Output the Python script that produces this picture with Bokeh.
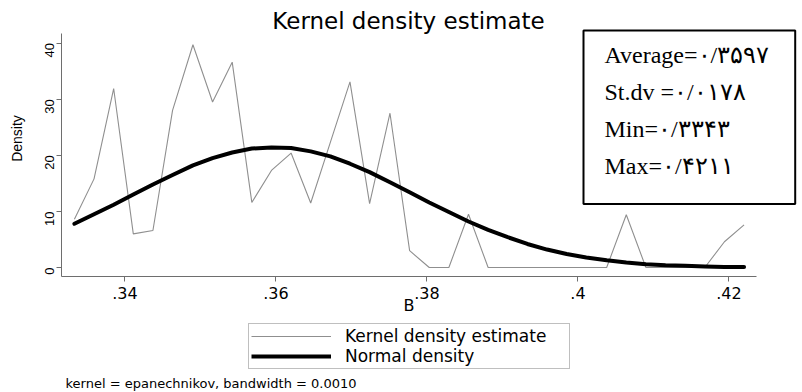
import math
from bokeh.plotting import figure
from bokeh.layouts import column
from bokeh.models import (Legend, LegendItem, Label, FixedTicker, Range1d, LinearAxis)
from bokeh.embed import file_html
from bokeh.resources import INLINE

# ---- data ----
b_grid = [0.3333, 0.3359, 0.3385, 0.3411, 0.3437, 0.3463, 0.3490, 0.3516, 0.3542,
          0.3568, 0.3594, 0.3620, 0.3646, 0.3672, 0.3698, 0.3724, 0.3751, 0.3777,
          0.3803, 0.3829, 0.3855, 0.3881, 0.3907, 0.3933, 0.3959, 0.3985, 0.4011,
          0.4038, 0.4064, 0.4090, 0.4116, 0.4142, 0.4168, 0.4194, 0.4220]
kernel_density = [8.6, 15.8, 31.9, 6.0, 6.6, 28.0, 39.7, 29.5, 36.6,
                  11.6, 17.3, 20.4, 11.5, 22.3, 33.1, 11.4, 27.5, 3.0,
                  0.0, 0.0, 9.5, 0.0, 0.0, 0.0, 0.0, 0.0, 0.0,
                  0.0, 9.4, 0.0, 0.0, 0.0, 0.0, 4.6, 7.6]
normal_density = [7.8, 9.5, 11.2, 13.0, 14.8, 16.5, 18.2, 19.5, 20.5,
                  21.2, 21.4, 21.3, 20.7, 19.8, 18.5, 17.0, 15.2, 13.4,
                  11.6, 9.9, 8.2, 6.7, 5.4, 4.2, 3.2, 2.4, 1.8,
                  1.3, 0.9, 0.6, 0.4, 0.3, 0.2, 0.1, 0.1]
x_ticks = [0.34, 0.36, 0.38, 0.40, 0.42]
x_tick_labels = [".34", ".36", ".38", ".4", ".42"]
y_ticks = [0, 10, 20, 30, 40]
y_tick_labels = ["0", "10", "20", "30", "40"]
legend_labels = ["Kernel density estimate", "Normal density"]
stats_lines = ["Average=۰/۳۵۹۷", "St.dv =۰/۰۱۷۸", "Min=۰/۳۳۴۳", "Max=۰/۴۲۱۱"]
title_text = "Kernel density estimate"
note_text = "kernel = epanechnikov, bandwidth = 0.0010"
x_label = "B"
y_label = "Density"

AXIS_GRAY = "#6e6e6e"
KERNEL_GRAY = "#8f8f8f"
SANS = "DejaVu Sans"

X_AXIS = (0.33159, 0.42364)
Y_AXIS = (-1.60, 41.71)

# ---------------- main plot ----------------
p = figure(width=802, height=320, output_backend="svg", toolbar_location=None,
           x_range=Range1d(X_AXIS[0], 0.42974), y_range=Range1d(Y_AXIS[0], 47.59),
           min_border_left=61, min_border_right=0, min_border_top=0,
           min_border_bottom=44)
p.outline_line_color = None
p.xgrid.visible = False
p.ygrid.visible = False
p.background_fill_color = "white"
p.border_fill_color = "white"

kr = p.line(b_grid, kernel_density, line_color=KERNEL_GRAY, line_width=1.1)
nr = p.line(b_grid, normal_density, line_color="black", line_width=4,
            line_join="round", line_cap="round")

# x axis
xa = p.xaxis[0]
xa.bounds = X_AXIS
xa.ticker = FixedTicker(ticks=x_ticks)
xa.major_label_overrides = dict(zip(x_ticks, x_tick_labels))
xa.minor_tick_line_color = None
xa.major_tick_out = 5
xa.major_tick_in = 0
xa.axis_line_color = AXIS_GRAY
xa.major_tick_line_color = AXIS_GRAY
xa.major_label_text_font = SANS
xa.major_label_text_font_size = "16px"
xa.major_label_text_color = "black"
xa.major_label_standoff = 5

# axis title "B", centred under the axis bounds
b_pos = (X_AXIS[0] + X_AXIS[1]) / 2
b_axis = LinearAxis(ticker=FixedTicker(ticks=[b_pos]),
                    major_label_overrides={b_pos: x_label},
                    axis_line_color=None, major_tick_line_color=None,
                    minor_tick_line_color=None, major_tick_out=0, major_tick_in=0,
                    major_label_standoff=-6, major_label_text_font=SANS,
                    major_label_text_font_size="16px",
                    major_label_text_color="black")
p.add_layout(b_axis, "below")

# y axis
ya = p.yaxis[0]
ya.bounds = Y_AXIS
ya.ticker = FixedTicker(ticks=y_ticks)
ya.major_label_overrides = dict(zip(y_ticks, y_tick_labels))
ya.minor_tick_line_color = None
ya.major_tick_out = 5
ya.major_tick_in = 0
ya.axis_line_color = AXIS_GRAY
ya.major_tick_line_color = AXIS_GRAY
ya.major_label_orientation = math.pi / 2
ya.major_label_text_font = "Liberation Sans"
ya.major_label_text_font_size = "13px"
ya.major_label_text_color = "black"
ya.major_label_standoff = 7
ya.axis_label = y_label
ya.axis_label_text_font = "Liberation Sans"
ya.axis_label_text_font_size = "14px"
ya.axis_label_text_font_style = "normal"
ya.axis_label_text_color = "black"
ya.axis_label_standoff = 13

title = Label(x=347, y=256, x_units="screen", y_units="screen", text=title_text,
              text_font=SANS, text_font_size="23px", text_align="center",
              text_baseline="alphabetic", text_color="black")
p.add_layout(title)

stats = Label(x=522, y=246, x_units="screen", y_units="screen",
              text="\n".join(stats_lines), anchor="top_left",
              text_font="Liberation Serif", text_font_size="24px",
              text_line_height=1.43, text_color="black",
              border_line_color="black", border_line_width=2,
              background_fill_color="white",
              padding=dict(left=21, right=26, top=11, bottom=25))
p.add_layout(stats)

# ---------------- legend + note strip ----------------
q = figure(width=802, height=72, output_backend="svg", toolbar_location=None,
           x_range=Range1d(0, 1), y_range=Range1d(0, 1),
           x_axis_location=None, y_axis_location=None,
           min_border_left=0, min_border_right=0, min_border_top=0,
           min_border_bottom=0)
q.outline_line_color = None
q.xgrid.visible = False
q.ygrid.visible = False

nan = float("nan")
k_key = q.line([nan], [nan], line_color=KERNEL_GRAY, line_width=1.1)
n_key = q.line([nan], [nan], line_color="black", line_width=4)

legend = Legend(items=[LegendItem(label=legend_labels[0], renderers=[k_key]),
                       LegendItem(label=legend_labels[1], renderers=[n_key])],
                location=(187, 23), orientation="vertical")
legend.border_line_color = "#808080"
legend.border_line_width = 1
legend.background_fill_color = "white"
legend.background_fill_alpha = 1
legend.glyph_width = 80
legend.glyph_height = 18
legend.label_height = 18
legend.label_width = 222
legend.label_standoff = 14
legend.spacing = 0
legend.padding = 2
legend.margin = 0
legend.label_text_font = SANS
legend.label_text_font_size = "17px"
legend.label_text_color = "black"
q.add_layout(legend, "center")

note = Label(x=4, y=9, x_units="screen", y_units="screen", text=note_text,
             text_font=SANS, text_font_size="13px", text_baseline="alphabetic",
             text_align="left", text_color="black")
q.add_layout(note)

page = column(p, q, spacing=0)
open("out.html", "w").write(file_html(page, INLINE))
